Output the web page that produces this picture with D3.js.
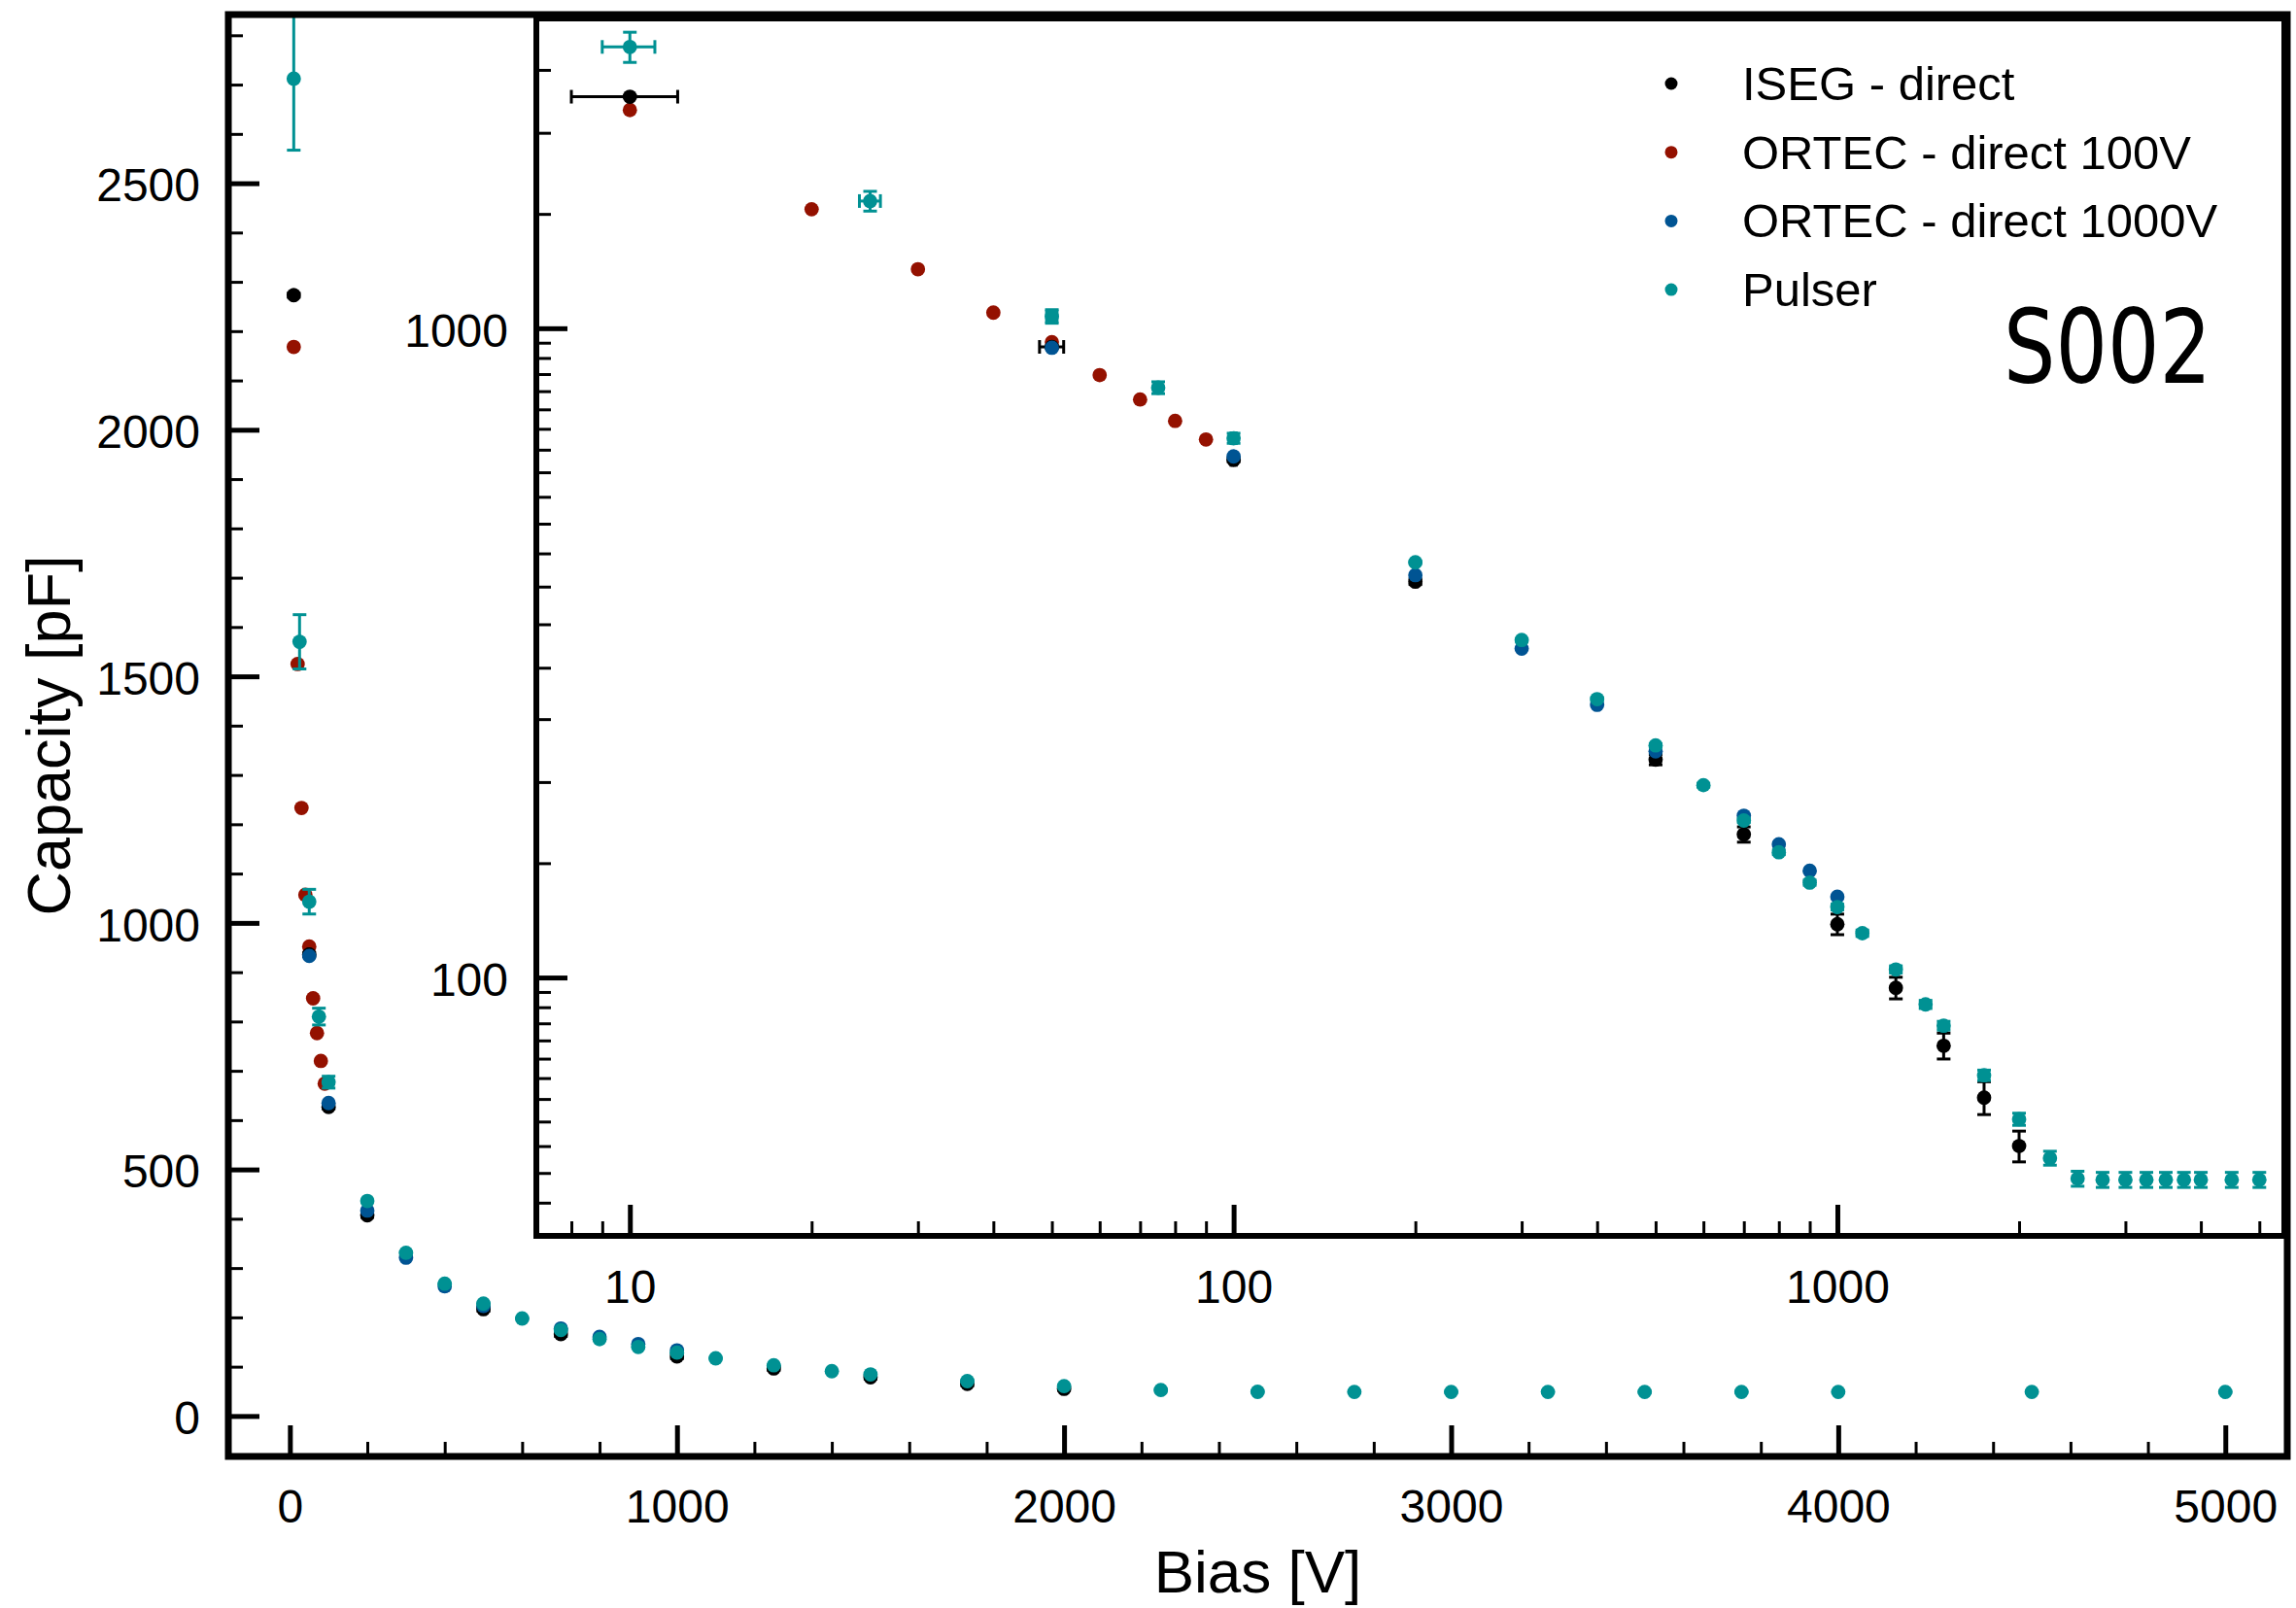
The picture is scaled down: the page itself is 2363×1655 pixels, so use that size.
<!DOCTYPE html>
<html>
<head>
<meta charset="utf-8">
<script src="https://cdn.jsdelivr.net/npm/d3@7"></script>
<style>
  body { margin: 0; background: #fff; }
  svg text { font-family: "Liberation Sans", Arial, Helvetica, sans-serif; fill: #000; }
</style>
</head>
<body>
<div id="chart"></div>
<script>
// ISEG - direct
var isegV = [10, 50, 100, 200, 500, 700, 1000, 1250, 1500, 1750, 2000];
var isegC = [2273, 936, 627, 407, 216.6, 166.1, 120.8, 96.4, 78.5, 65.3, 55];
var isegErrV = [2, 2.3, 1, 0, 0, 0, 0, 0, 0, 0, 0];
var isegErrC = [4, 4, 4, 4, 4, 4.5, 4.4, 3.7, 3.6, 3.8, 3];

// ORTEC - direct 100V
var ortec100V = [10, 20, 30, 40, 50, 60, 70, 80, 90];
var ortec100C = [2168, 1525, 1233, 1057, 952, 847, 776.6, 720, 674];

// ORTEC - direct 1000V
var ortec1000V = [50, 100, 200, 300, 400, 500, 700, 800, 900, 1000];
var ortec1000C = [933, 634.7, 416.6, 321, 263, 223, 177.5, 160.4, 146, 133.2];

// Pulser
var pulserV = [10, 25, 50, 75, 100, 200, 300, 400, 500, 600, 700, 800, 900, 1000, 1100,
               1250, 1400, 1500, 1750, 2000, 2250, 2500, 2750, 3000, 3250, 3500, 3750, 4000, 4500, 5000];
var pulserC = [2712, 1570, 1043, 810, 677, 436, 331, 268.4, 227.8, 197.8, 174.5, 155.9, 140, 128.4, 117,
               102.9, 90.9, 84.3, 70.7, 60.5, 52.7, 49, 48.8, 48.8, 48.8, 48.8, 48.8, 48.8, 48.8, 48.8];
var pulserErrV = [1, 1, 1, 1, 1, 0, 0, 0, 0, 0, 0, 0, 0, 0, 0,
                  0, 0, 0, 0, 0, 0, 0, 0, 0, 0, 0, 0, 0, 0, 0];
var pulserErrC = [145, 55, 25, 17, 12, 1.3, 1.3, 1.3, 1.3, 1.3, 1.3, 1.3, 1.3, 1.3, 1.3,
                  1.3, 1.3, 1.3, 1.3, 1.3, 1.3, 1.3, 1.3, 1.3, 1.3, 1.3, 1.3, 1.3, 1.3, 1.3];

var mainXTicks = [0, 1000, 2000, 3000, 4000, 5000];
var mainYTicks = [0, 500, 1000, 1500, 2000, 2500];
var insetXTicks = [10, 100, 1000];
var insetYTicks = [100, 1000];
var legendLabels = ["ISEG - direct", "ORTEC - direct 100V", "ORTEC - direct 1000V", "Pulser"];
var padLabel = "S002";

var col = {iseg: "#000000", o100: "#941100", o1000: "#005493", pulser: "#009193"};

var W = 2363, H = 1655;
var main = {left: 235, right: 2354, top: 15, bottom: 1499};
var ins = {left: 552, right: 2351, top: 19, bottom: 1272};

var svg = d3.select("#chart").append("svg").attr("width", W).attr("height", H);

var xMain = d3.scaleLinear().domain([-159, 5160]).range([main.left, main.right]);
var yMain = d3.scaleLinear().domain([-82, 2842]).range([main.bottom, main.top]);
var xIns = d3.scaleLog().domain([7, 5500]).range([ins.left, ins.right]);
var yIns = d3.scaleLog().domain([40, 3000]).range([ins.bottom, ins.top]);

var defs = svg.append("defs");
defs.append("clipPath").attr("id", "clipMain").append("rect")
  .attr("x", main.left).attr("y", main.top)
  .attr("width", main.right - main.left).attr("height", main.bottom - main.top);
defs.append("clipPath").attr("id", "clipIns").append("rect")
  .attr("x", ins.left).attr("y", ins.top)
  .attr("width", ins.right - ins.left).attr("height", ins.bottom - ins.top);

function styleAxis(g, size, width) {
  g.select(".domain").remove();
  g.attr("font-size", size).attr("font-family", "Liberation Sans, Arial, sans-serif");
  g.selectAll("line").attr("stroke", "#000").attr("stroke-width", width);
}

function drawAxes(xs, ys, box, xMajor, yMajor, xMinor, yMinor, xPad) {
  var g = svg.append("g");
  var bx = g.append("g").attr("transform", "translate(0," + box.bottom + ")")
    .call(d3.axisBottom(xs).tickValues(xMinor).tickSize(-15).tickFormat(""));
  styleAxis(bx, 48, 3);
  var by = g.append("g").attr("transform", "translate(" + box.left + ",0)")
    .call(d3.axisLeft(ys).tickValues(yMinor).tickSize(-15).tickFormat(""));
  styleAxis(by, 48, 3);
  var ax = g.append("g").attr("transform", "translate(0," + box.bottom + ")")
    .call(d3.axisBottom(xs).tickValues(xMajor).tickSize(-32).tickPadding(xPad).tickFormat(d3.format("d")));
  styleAxis(ax, 48, 5);
  var ay = g.append("g").attr("transform", "translate(" + box.left + ",0)")
    .call(d3.axisLeft(ys).tickValues(yMajor).tickSize(-32).tickPadding(29).tickFormat(d3.format("d")));
  styleAxis(ay, 48, 5);
  ay.selectAll("text").attr("dy", "0.38em");
}

function drawSeries(g, xs, ys, V, C, eV, eC, color, r) {
  var pts = V.map(function (v, i) {
    return {v: v, c: C[i], ev: eV ? eV[i] : 0, ec: eC ? eC[i] : 0};
  });
  var cap = 7;
  var eb = g.append("g").attr("stroke", color).attr("stroke-width", 3).attr("fill", "none");
  pts.forEach(function (d) {
    var cx = xs(d.v), cy = ys(d.c);
    if (d.ec > 0) {
      var y1 = ys(d.c + d.ec), y2 = ys(d.c - d.ec);
      eb.append("line").attr("x1", cx).attr("x2", cx).attr("y1", y1).attr("y2", y2);
      eb.append("line").attr("x1", cx - cap).attr("x2", cx + cap).attr("y1", y1).attr("y2", y1);
      eb.append("line").attr("x1", cx - cap).attr("x2", cx + cap).attr("y1", y2).attr("y2", y2);
    }
    if (d.ev > 0) {
      var x1 = xs(d.v - d.ev), x2 = xs(d.v + d.ev);
      eb.append("line").attr("x1", x1).attr("x2", x2).attr("y1", cy).attr("y2", cy);
      eb.append("line").attr("x1", x1).attr("x2", x1).attr("y1", cy - cap).attr("y2", cy + cap);
      eb.append("line").attr("x1", x2).attr("x2", x2).attr("y1", cy - cap).attr("y2", cy + cap);
    }
  });
  g.append("g").selectAll("circle").data(pts).enter().append("circle")
    .attr("cx", function (d) { return xs(d.v); })
    .attr("cy", function (d) { return ys(d.c); })
    .attr("r", r)
    .attr("fill", color);
}

function drawAll(g, xs, ys) {
  drawSeries(g, xs, ys, ortec100V, ortec100C, null, null, col.o100, 7.4);
  drawSeries(g, xs, ys, isegV, isegC, isegErrV, isegErrC, col.iseg, 7.4);
  drawSeries(g, xs, ys, ortec1000V, ortec1000C, null, null, col.o1000, 7.4);
  drawSeries(g, xs, ys, pulserV, pulserC, pulserErrV, pulserErrC, col.pulser, 7.4);
}

// ---- main (linear) plot
var mainXMinor = d3.range(200, 5200, 200).filter(function (v) { return v % 1000 !== 0; });
var mainYMinor = d3.range(100, 2900, 100).filter(function (v) { return v % 500 !== 0; });
drawAxes(xMain, yMain, main, mainXTicks, mainYTicks, mainXMinor, mainYMinor, 34);

var gMain = svg.append("g").attr("clip-path", "url(#clipMain)");
drawAll(gMain, xMain, yMain);

svg.append("rect")
  .attr("x", main.left).attr("y", main.top)
  .attr("width", main.right - main.left).attr("height", main.bottom - main.top)
  .attr("fill", "none").attr("stroke", "#000").attr("stroke-width", 7);

svg.append("text").attr("x", (main.left + main.right) / 2).attr("y", 1639)
  .attr("text-anchor", "middle").attr("font-size", 62).text("Bias [V]");
svg.append("text").attr("transform", "translate(72," + ((main.top + main.bottom) / 2) + ") rotate(-90)")
  .attr("text-anchor", "middle").attr("font-size", 63).text("Capacity [pF]");

// ---- inset (log-log) plot
svg.append("rect")
  .attr("x", ins.left).attr("y", ins.top)
  .attr("width", ins.right - ins.left).attr("height", ins.bottom - ins.top)
  .attr("fill", "#fff");

var insXMinor = xIns.ticks().filter(function (v) {
  return v > 7.5 && insetXTicks.indexOf(v) < 0;
});
var insYMinor = [];
[10, 100, 1000].forEach(function (dec) {
  for (var m = 1; m < 10; m += 0.5) {
    var v = m * dec;
    if (v > 41 && v < 2990 && insetYTicks.indexOf(v) < 0) insYMinor.push(v);
  }
});
drawAxes(xIns, yIns, ins, insetXTicks, insetYTicks, insXMinor, insYMinor, 35);

var gIns = svg.append("g").attr("clip-path", "url(#clipIns)");
drawAll(gIns, xIns, yIns);

svg.append("rect")
  .attr("x", ins.left).attr("y", ins.top)
  .attr("width", ins.right - ins.left).attr("height", ins.bottom - ins.top)
  .attr("fill", "none").attr("stroke", "#000").attr("stroke-width", 6);

// ---- legend
var legCols = [col.iseg, col.o100, col.o1000, col.pulser];
var leg = svg.append("g").selectAll("g").data(legendLabels).enter().append("g")
  .attr("transform", function (d, i) { return "translate(1720," + (86 + i * 70.7) + ")"; });
leg.append("circle").attr("r", 6.5).attr("fill", function (d, i) { return legCols[i]; });
leg.append("text").attr("x", 73).attr("y", 17).attr("font-size", 49).text(function (d) { return d; });

svg.append("text").attr("x", 2062).attr("y", 394)
  .attr("font-size", 106)
  .attr("textLength", 214).attr("lengthAdjust", "spacingAndGlyphs")
  .style("font-family", "'DejaVu Sans', sans-serif")
  .text(padLabel);
</script>
</body>
</html>
